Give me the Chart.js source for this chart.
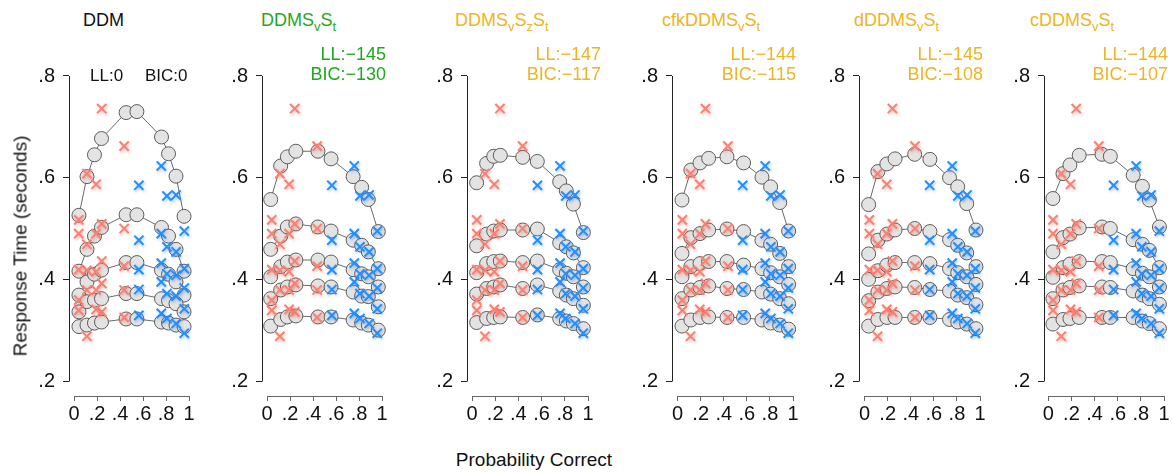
<!DOCTYPE html>
<html>
<head>
<meta charset="utf-8">
<title>Quantile probability plots</title>
<script src="https://cdn.jsdelivr.net/npm/chart.js@4.4.1/dist/chart.umd.min.js"></script>
<style>
  html, body { margin: 0; padding: 0; background: #fff; }
  #fig { position: relative; width: 1172px; height: 472px; overflow: hidden;
         font-family: "Liberation Sans", Arial, Helvetica, sans-serif; color: #111; }
  #fig canvas { position: absolute; }
  .lbl { position: absolute; white-space: nowrap; line-height: 1; }
  .lbl sub { font-size: 13px; vertical-align: -5px; line-height: 0; }
</style>
</head>
<body>
<div id="fig"></div>
<script>
/* ---- observed data: p(correct) per condition, RT quantiles .1 .3 .5 .7 .9 ---- */
const obsP = [0.564, 0.759, 0.808, 0.888, 0.959];
const obsCorrectQ = [
  [0.329, 0.380, 0.419, 0.477, 0.585],
  [0.333, 0.395, 0.432, 0.490, 0.623],
  [0.323, 0.372, 0.411, 0.464, 0.564],
  [0.313, 0.367, 0.408, 0.454, 0.566],
  [0.294, 0.342, 0.383, 0.421, 0.495],
];
const obsErrorQ = [
  [0.325, 0.379, 0.426, 0.500, 0.662],
  [0.336, 0.392, 0.436, 0.509, 0.736],
  [0.341, 0.379, 0.415, 0.490, 0.587],
  [0.288, 0.379, 0.418, 0.469, 0.608],
  [0.339, 0.359, 0.419, 0.490, 0.517],
];

/* ---- model predictions: p(correct) and quantile arcs (errors left -> corrects right) ---- */
const ddmP = [0.547, 0.761, 0.822, 0.887, 0.957];
const ddmQ = [
  [0.307, 0.310, 0.314, 0.316, 0.322, 0.322, 0.316, 0.314, 0.310, 0.307],
  [0.336, 0.356, 0.359, 0.362, 0.372, 0.372, 0.362, 0.358, 0.352, 0.336],
  [0.369, 0.395, 0.410, 0.418, 0.433, 0.433, 0.418, 0.410, 0.395, 0.369],
  [0.416, 0.459, 0.485, 0.502, 0.527, 0.527, 0.502, 0.485, 0.459, 0.416],
  [0.526, 0.602, 0.645, 0.677, 0.728, 0.730, 0.680, 0.647, 0.603, 0.524],
];
const svstP = [0.557, 0.749, 0.823, 0.881, 0.968];
const svstQ = [
  [0.308, 0.321, 0.326, 0.328, 0.326, 0.326, 0.320, 0.314, 0.310, 0.300],
  [0.362, 0.379, 0.385, 0.389, 0.387, 0.385, 0.375, 0.367, 0.366, 0.346],
  [0.405, 0.425, 0.434, 0.438, 0.438, 0.434, 0.419, 0.411, 0.405, 0.385],
  [0.459, 0.485, 0.503, 0.509, 0.503, 0.495, 0.477, 0.467, 0.454, 0.421],
  [0.557, 0.623, 0.641, 0.652, 0.652, 0.637, 0.602, 0.581, 0.557, 0.494],
];
const svszstP = [0.563, 0.756, 0.813, 0.874, 0.960];
const svszstQ = [
  [0.315, 0.323, 0.325, 0.326, 0.325, 0.330, 0.323, 0.318, 0.313, 0.303],
  [0.371, 0.382, 0.385, 0.389, 0.382, 0.389, 0.377, 0.369, 0.362, 0.349],
  [0.413, 0.431, 0.435, 0.436, 0.433, 0.436, 0.419, 0.412, 0.405, 0.385],
  [0.466, 0.489, 0.495, 0.497, 0.497, 0.499, 0.472, 0.464, 0.452, 0.423],
  [0.590, 0.628, 0.642, 0.644, 0.640, 0.632, 0.592, 0.574, 0.548, 0.492],
];
const cfkP = [0.572, 0.731, 0.806, 0.885, 0.962];
const cfkQ = [
  [0.308, 0.320, 0.325, 0.326, 0.325, 0.325, 0.320, 0.314, 0.310, 0.302],
  [0.362, 0.379, 0.384, 0.387, 0.382, 0.380, 0.375, 0.371, 0.362, 0.352],
  [0.405, 0.425, 0.431, 0.435, 0.435, 0.428, 0.421, 0.413, 0.405, 0.390],
  [0.451, 0.482, 0.490, 0.497, 0.499, 0.494, 0.477, 0.469, 0.451, 0.425],
  [0.556, 0.615, 0.629, 0.638, 0.641, 0.629, 0.601, 0.582, 0.551, 0.495],
];
const dP = [0.566, 0.736, 0.807, 0.885, 0.965];
const dQ = [
  [0.308, 0.321, 0.325, 0.325, 0.325, 0.325, 0.321, 0.316, 0.312, 0.303],
  [0.358, 0.375, 0.382, 0.385, 0.384, 0.380, 0.377, 0.369, 0.364, 0.350],
  [0.400, 0.417, 0.428, 0.433, 0.433, 0.431, 0.421, 0.413, 0.405, 0.390],
  [0.450, 0.477, 0.489, 0.497, 0.500, 0.494, 0.478, 0.467, 0.452, 0.425],
  [0.547, 0.612, 0.627, 0.637, 0.646, 0.636, 0.600, 0.582, 0.549, 0.497],
];
const cP = [0.536, 0.733, 0.813, 0.873, 0.960];
const cQ = [
  [0.312, 0.321, 0.323, 0.325, 0.325, 0.325, 0.325, 0.318, 0.313, 0.303],
  [0.362, 0.379, 0.384, 0.387, 0.385, 0.384, 0.377, 0.369, 0.362, 0.351],
  [0.404, 0.423, 0.430, 0.435, 0.435, 0.433, 0.421, 0.412, 0.405, 0.385],
  [0.454, 0.482, 0.489, 0.501, 0.503, 0.500, 0.478, 0.469, 0.457, 0.423],
  [0.559, 0.608, 0.625, 0.644, 0.646, 0.642, 0.605, 0.583, 0.556, 0.503],
];

const modelNames = ['DDM', 'DDMS<sub>v</sub>S<sub>t</sub>', 'DDMS<sub>v</sub>S<sub>z</sub>S<sub>t</sub>',
                    'cfkDDMS<sub>v</sub>S<sub>t</sub>', 'dDDMS<sub>v</sub>S<sub>t</sub>', 'cDDMS<sub>v</sub>S<sub>t</sub>'];
const modelLL  = [0, -145, -147, -144, -145, -144];
const modelBIC = [0, -130, -117, -115, -108, -107];
const modelP = [ddmP, svstP, svszstP, cfkP, dP, cP];
const modelQ = [ddmQ, svstQ, svszstQ, cfkQ, dQ, cQ];

const X_TICKS = [0, 0.2, 0.4, 0.6, 0.8, 1];
const Y_TICKS = [0.2, 0.4, 0.6, 0.8];

/* ---- layout ---- */
const FONT = '"Liberation Sans", Arial, Helvetica, sans-serif';
const PLOT_TOP = 60, PLOT_H = 336, Y_AXIS_W = 50, X_AXIS_H = 40;
const Y_PX = 305 / 0.6;                       // px per second
const Y_MAX = 0.8 + 16 / Y_PX, Y_MIN = 0.2 - 15 / Y_PX;
const panels = [
  { axis: 69,   x0: 74,     x1: 189,    title: 83   },
  { axis: 262,  x0: 267,    x1: 382,    title: 261  },
  { axis: 467,  x0: 472,    x1: 588,    title: 455  },
  { axis: 672,  x0: 677.6,  x1: 793,    title: 662  },
  { axis: 859,  x0: 864.6,  x1: 980,    title: 854  },
  { axis: 1044, x0: 1048.3, x1: 1164.4, title: 1030 },
];
const statRight = [null, 386, 601, 796, 983, 1168];
const panelColor = ['#111', '#1fa81f', '#eeb422', '#eeb422', '#eeb422', '#eeb422'];

const fig = document.getElementById('fig');

function addLabel(html, css) {
  const d = document.createElement('div');
  d.className = 'lbl';
  d.innerHTML = html;
  Object.assign(d.style, css);
  fig.appendChild(d);
  return d;
}
const fmtStat = v => (v < 0 ? '\u2212' + Math.abs(v) : String(v));
const fmtTick = v => (v === 0 || v === 1) ? String(v) : v.toFixed(1).replace(/^0/, '');

// scales must not push the plot area around: fixed size, no label padding
function pinScale(s, w, h) {
  if (w != null) s.width = w;
  if (h != null) s.height = h;
  s.paddingTop = 0; s.paddingBottom = 0; s.paddingLeft = 0; s.paddingRight = 0;
}

// R-style detached axes: lines only span the tick range
const rAxes = {
  id: 'rAxes',
  afterDraw(chart) {
    const { ctx, chartArea, scales: { x, y } } = chart;
    ctx.save();
    ctx.lineWidth = 1;
    ctx.strokeStyle = '#222';
    const lx = Math.round(chartArea.left) + 0.5;
    ctx.beginPath();
    ctx.moveTo(lx, Math.round(y.getPixelForValue(0.8)));
    ctx.lineTo(lx, Math.round(y.getPixelForValue(0.2)) + 0.5);
    ctx.stroke();
    ctx.strokeStyle = '#666';
    const by = Math.round(chartArea.bottom) + 0.5;
    ctx.beginPath();
    ctx.moveTo(Math.round(x.getPixelForValue(0)), by);
    ctx.lineTo(Math.round(x.getPixelForValue(1)) + 1, by);
    ctx.stroke();
    ctx.restore();
  }
};

// soft drop shadow under the data crosses
const glow = {
  id: 'glow',
  beforeDatasetDraw(chart, args) {
    const ds = chart.data.datasets[args.index];
    if (!ds.glow) return;
    const c = chart.ctx;
    c.save();
    c.shadowColor = ds.glow;
    c.shadowBlur = 3;
    c.shadowOffsetX = 1;
    c.shadowOffsetY = 1.5;
  },
  afterDatasetDraw(chart, args) {
    if (chart.data.datasets[args.index].glow) chart.ctx.restore();
  }
};

panels.forEach((pl, i) => {
  const ppu = pl.x1 - pl.x0;
  const plotW = pl.x1 + 12 - pl.axis;
  const cv = document.createElement('canvas');
  cv.width = Y_AXIS_W + plotW;
  cv.height = PLOT_H + X_AXIS_H;
  cv.style.left = (pl.axis - Y_AXIS_W) + 'px';
  cv.style.top = PLOT_TOP + 'px';
  cv.style.width = cv.width + 'px';
  cv.style.height = cv.height + 'px';
  fig.appendChild(cv);

  const p = modelP[i];
  const xs = p.slice().reverse().map(v => 1 - v).concat(p);
  const datasets = modelQ[i].map(row => ({
    data: row.map((v, k) => ({ x: xs[k], y: v })),
    showLine: true,
    borderColor: '#6a6a6a',
    borderWidth: 1,
    pointRadius: 7,
    pointBackgroundColor: '#e3e3e3',
    pointBorderColor: '#5c5c5c',
    pointBorderWidth: 1,
    order: 2,
    clip: false,
  }));

  const errPts = [], corPts = [];
  obsP.forEach((pc, c) => {
    obsErrorQ[c].forEach(v => errPts.push({ x: 1 - pc, y: v }));
    obsCorrectQ[c].forEach(v => corPts.push({ x: pc, y: v }));
  });
  [[errPts, '#fa8072', 'rgba(200,60,40,0.35)'], [corPts, '#1e90ff', 'rgba(20,80,200,0.35)']]
    .forEach(([pts, col, sh]) => datasets.push({
      data: pts,
      showLine: false,
      pointStyle: 'crossRot',
      pointRadius: 6.5,
      pointBorderWidth: 2,
      pointBorderColor: col,
      pointBackgroundColor: col,
      glow: sh,
      order: 1,
      clip: false,
    }));

  new Chart(cv, {
    type: 'scatter',
    data: { datasets },
    options: {
      responsive: false,
      animation: false,
      devicePixelRatio: 1,
      events: [],
      layout: { padding: 0, autoPadding: false },
      plugins: { legend: { display: false }, tooltip: { enabled: false } },
      scales: {
        x: {
          type: 'linear',
          min: -(pl.x0 - pl.axis) / ppu,
          max: (pl.axis + plotW - pl.x0) / ppu,
          afterBuildTicks: s => { s.ticks = X_TICKS.map(v => ({ value: v })); },
          afterFit: s => pinScale(s, null, X_AXIS_H),
          grid: { drawOnChartArea: false, drawTicks: true, tickLength: 5, color: '#666' },
          border: { display: false },
          ticks: { autoSkip: false, maxRotation: 0, padding: 1, color: '#111',
                   font: { size: 20, family: FONT }, callback: fmtTick },
        },
        y: {
          type: 'linear',
          min: Y_MIN,
          max: Y_MAX,
          afterBuildTicks: s => { s.ticks = Y_TICKS.map(v => ({ value: v })); },
          afterFit: s => pinScale(s, Y_AXIS_W, null),
          grid: { drawOnChartArea: false, drawTicks: true, tickLength: 6, color: '#222' },
          border: { display: false },
          ticks: { padding: 8, color: '#111', font: { size: 20, family: FONT }, callback: fmtTick },
        },
      },
    },
    plugins: [rAxes, glow],
  });

  // titles and fit statistics
  addLabel(modelNames[i], { left: pl.title + 'px', top: '11px', fontSize: '18px', color: panelColor[i] });
  if (i === 0) {
    addLabel('LL:' + fmtStat(modelLL[i]), { left: '90px', top: '67px', fontSize: '17px', color: panelColor[i] });
    addLabel('BIC:' + fmtStat(modelBIC[i]), { left: '145px', top: '67px', fontSize: '17px', color: panelColor[i] });
  } else {
    const r = (1172 - statRight[i]) + 'px';
    addLabel('LL:' + fmtStat(modelLL[i]), { right: r, top: '45px', fontSize: '18px', color: panelColor[i] });
    addLabel('BIC:' + fmtStat(modelBIC[i]), { right: r, top: '65px', fontSize: '18px', color: panelColor[i] });
  }
});

addLabel('Response Time (seconds)', { left: '20px', top: '246px', fontSize: '19px',
  transform: 'translate(-50%, -50%) rotate(-90deg)' });
addLabel('Probability Correct', { left: '534px', top: '450px', fontSize: '19px', transform: 'translateX(-50%)' });
</script>
</body>
</html>
